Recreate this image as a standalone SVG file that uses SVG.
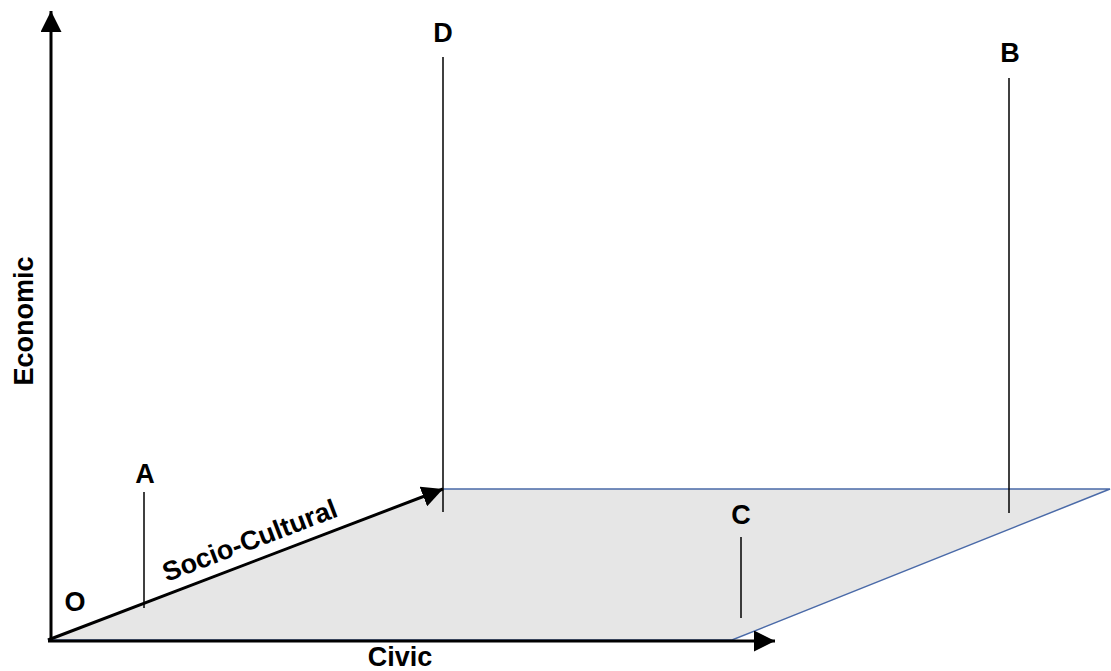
<svg xmlns="http://www.w3.org/2000/svg" width="1111" height="671" viewBox="0 0 1111 671">
<style>
  .lbl { font-family: "Liberation Sans", Arial, sans-serif; font-weight: bold; font-size: 27px; fill: #000; }
  .axis { stroke: #000; stroke-width: 3; fill: none; }
  .drop { stroke: #000; stroke-width: 1.5; fill: none; }
  .plane { fill: #e6e6e6; stroke: #4a6aa8; stroke-width: 1.5; }
</style>
<defs>
  <marker id="ah" viewBox="0 0 10 10" refX="10" refY="5" markerWidth="7" markerHeight="7" markerUnits="strokeWidth" orient="auto">
    <path d="M0,0 L10,5 L0,10 Z" fill="#000"/>
  </marker>
</defs>
<rect width="1111" height="671" fill="#fff"/>
<g id="plane">
  <polygon class="plane" points="48,640 443,489 1110,489 732,640"/>
</g>
<g id="connectors">
  <line class="axis" x1="51" y1="641" x2="51" y2="11" marker-end="url(#ah)"/>
  <line class="axis" x1="48" y1="641" x2="775" y2="641" marker-end="url(#ah)"/>
  <line class="axis" x1="48" y1="640" x2="443" y2="489" marker-end="url(#ah)"/>
  <line class="drop" x1="443" y1="57" x2="443" y2="512"/>
  <line class="drop" x1="1009" y1="78" x2="1009" y2="513"/>
  <line class="drop" x1="144" y1="492" x2="144" y2="608"/>
  <line class="drop" x1="741" y1="537" x2="741" y2="618"/>
</g>
<g id="O"><text class="lbl" x="75" y="611" text-anchor="middle">O</text></g>
<g id="A"><text class="lbl" x="145" y="483" text-anchor="middle">A</text></g>
<g id="D"><text class="lbl" x="443" y="42" text-anchor="middle">D</text></g>
<g id="B"><text class="lbl" x="1010" y="62" text-anchor="middle">B</text></g>
<g id="C"><text class="lbl" x="741" y="524" text-anchor="middle">C</text></g>
<g id="civic"><text class="lbl" x="400" y="666" text-anchor="middle">Civic</text></g>
<g id="economic"><text class="lbl" transform="translate(33,321) rotate(-90)" text-anchor="middle">Economic</text></g>
<g id="socio"><text class="lbl" transform="translate(253,549) rotate(-20.9)" text-anchor="middle">Socio-Cultural</text></g>
</svg>
